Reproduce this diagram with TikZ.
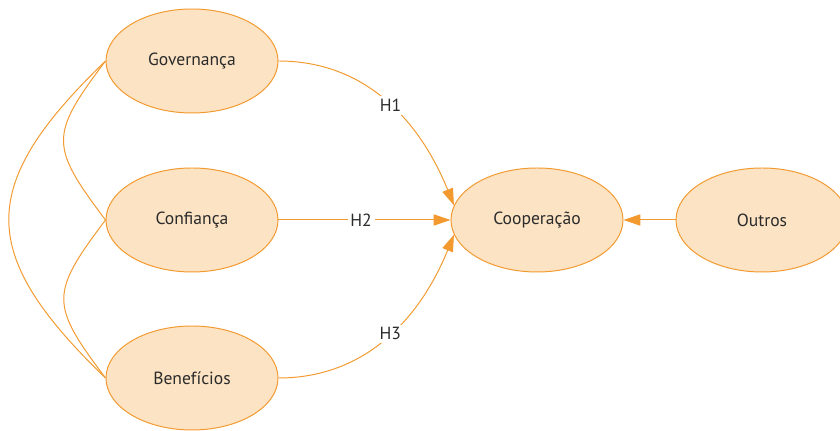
\documentclass[tikz,border=0pt]{standalone}
\usepackage{fontspec}
\setmainfont{PT Sans}
\usetikzlibrary{arrows.meta,shapes.geometric}
\definecolor{naranja}{HTML}{F29A30}
\definecolor{crema}{HTML}{FCE3C4}
\definecolor{texto}{HTML}{2B2B2B}
\begin{document}
\begin{tikzpicture}[
    factor/.style={ellipse, draw=naranja, fill=crema, line width=0.7pt,
        minimum width=4.3cm, minimum height=2.6cm, inner sep=0pt,
        text=texto, font=\fontsize{12.5}{14}\selectfont},
    flecha/.style={draw=naranja, line width=0.7pt,
        -{Triangle[length=4.2mm, width=2.8mm]}},
    enlace/.style={draw=naranja, line width=0.7pt},
    etiqueta/.style={fill=white, text=texto, inner sep=2pt,
        font=\fontsize{12.5}{14}\selectfont}
]
    % Fijar el tamaño del dibujo
    \useasboundingbox (0,0) rectangle (21,10.775);

    % Definir la columna izquierda
    \def\xa{4.8}

    % Dibujar las variables
    \node[factor] (gov) at (\xa,9.25) {Governança};
    \node[factor] (conf) at (\xa,5.275) {Confiança};
    \node[factor] (ben) at (\xa,1.325) {Benefícios};
    \node[factor] (coop) at (13.425,5.275) {Cooperação};
    \node[factor] (outros) at (19.05,5.275) {Outros};

    % Dibujar las correlaciones de la izquierda
    \draw[enlace] (gov.west) to[out=233, in=127, looseness=1.5] (conf.west);
    \draw[enlace] (conf.west) to[out=233, in=127, looseness=1.5] (ben.west);
    \draw[enlace] (gov.west) to[out=224, in=136, looseness=1.45] (ben.west);

    % Dibujar las hipótesis
    \draw[flecha] (gov.east) to[out=0, in=112]
        node[etiqueta, pos=0.52] {H1} (coop.170);
    \draw[flecha] (conf.east) -- node[etiqueta, pos=0.48] {H2} (coop.west);
    \draw[flecha] (ben.east) to[out=0, in=248]
        node[etiqueta, pos=0.52] {H3} (coop.190);

    % Dibujar el efecto de otros factores
    \draw[flecha] (outros.west) -- (coop.east);
\end{tikzpicture}
\end{document}
